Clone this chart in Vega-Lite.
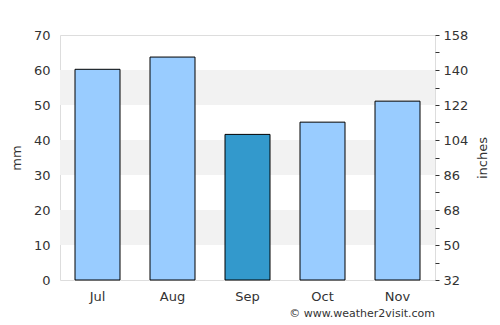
{
  "$schema": "https://vega.github.io/schema/vega-lite/v6.json",
  "autosize": "none",
  "width": 375,
  "height": 245,
  "padding": {"left": 60, "top": 35, "right": 65, "bottom": 45},
  "background": "white",
  "config": {
    "view": {"stroke": "#dddddd", "strokeWidth": 1},
    "font": "DejaVu Sans",
    "axis": {"labelFont": "DejaVu Sans", "titleFont": "DejaVu Sans", "labelColor": "#333333", "titleColor": "#333333", "labelFontSize": 13, "titleFontSize": 13, "titleFontWeight": "normal"}
  },
  "title": {"text": "© www.weather2visit.com", "orient": "bottom", "anchor": "end", "frame": "group", "fontSize": 11, "fontWeight": "normal", "color": "#333333", "font": "DejaVu Sans", "offset": 5},
  "datasets": {
    "rain": [
      {"month": "Jul", "mm": 60.2, "highlight": "no"},
      {"month": "Aug", "mm": 63.7, "highlight": "no"},
      {"month": "Sep", "mm": 41.6, "highlight": "yes"},
      {"month": "Oct", "mm": 45.1, "highlight": "no"},
      {"month": "Nov", "mm": 51.1, "highlight": "no"}
    ],
    "bands": [
      {"lo": 10, "hi": 20},
      {"lo": 30, "hi": 40},
      {"lo": 50, "hi": 60}
    ],
    "right": [{"v": 32}, {"v": 158}]
  },
  "layer": [
    {
      "data": {"name": "bands"},
      "mark": {"type": "rect", "fill": "#f2f2f2"},
      "encoding": {
        "y": {"field": "lo", "type": "quantitative", "scale": {"domain": [0, 70]}, "axis": null},
        "y2": {"field": "hi"}
      }
    },
    {
      "data": {"name": "rain"},
      "mark": {"type": "bar", "stroke": "black", "strokeWidth": 1},
      "encoding": {
        "x": {"field": "month", "type": "nominal", "sort": null,
              "scale": {"paddingInner": 0.4, "paddingOuter": 0.2},
              "axis": {"title": null, "labelAngle": 0, "ticks": false, "domain": false, "labelPadding": 10}},
        "y": {"field": "mm", "type": "quantitative", "scale": {"domain": [0, 70]},
              "axis": {"title": "mm", "values": [0,10,20,30,40,50,60,70], "ticks": false, "domain": false, "gridColor": "#e0e0e0", "labelPadding": 10, "titlePadding": 10}},
        "color": {"field": "highlight", "type": "nominal", "scale": {"domain": ["no", "yes"], "range": ["#99ccff", "#3399cc"]}, "legend": null}
      }
    },
    {
      "data": {"name": "right"},
      "mark": {"type": "point", "opacity": 0},
      "encoding": {
        "y": {"field": "v", "type": "quantitative", "scale": {"domain": [32, 158], "nice": false, "zero": false},
              "axis": {"orient": "right", "title": "inches", "titleAngle": -90, "values": [32,41,50,59,68,77,86,95,104,113,122,131,140,149,158],
                       "labelExpr": "datum.value % 18 == 14 ? datum.label : ''", "labelOverlap": false,
                       "grid": false, "domain": false, "ticks": true, "tickColor": "#333333", "tickSize": 4, "labelPadding": 4, "titlePadding": 22}}
      }
    }
  ],
  "resolve": {"scale": {"y": "independent"}}
}
